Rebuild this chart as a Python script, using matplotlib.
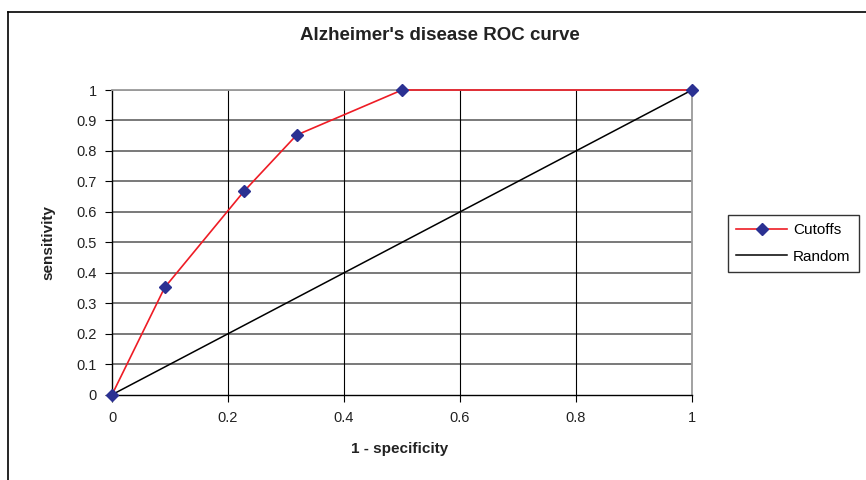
import matplotlib.pyplot as plt
from matplotlib.lines import Line2D

plt.rcParams['font.family'] = ['Liberation Sans', 'DejaVu Sans']

# data
fpr = [0, 0.0909, 0.2273, 0.3182, 0.5, 1]
sens = [0, 0.352, 0.667, 0.852, 1, 1]
rand_x = [0, 1]
rand_y = [0, 1]
xticks = [0, 0.2, 0.4, 0.6, 0.8, 1]
yticks = [0, 0.1, 0.2, 0.3, 0.4, 0.5, 0.6, 0.7, 0.8, 0.9, 1]

fig = plt.figure(figsize=(8.66, 4.8), dpi=100)
ax = fig.add_axes([112 / 866, 1 - 394.7 / 480, 580 / 866, 304.7 / 480])

# grid: horizontal grey, vertical black
for y in yticks[1:]:
    ax.axhline(y, color='#6e6e6e' if y < 1 else '#9a9a9a', lw=1.3, zorder=0)
for x in xticks[1:-1]:
    ax.axvline(x, color='black', lw=0.8, zorder=0)

ax.plot(rand_x, rand_y, color='black', lw=1.1, label='Random', zorder=2)
ax.plot(fpr, sens, color='#ee1c25', lw=1.2, marker='D', markersize=6.5,
        markerfacecolor='#2b3192', markeredgecolor='#2b3192', label='Cutoffs',
        zorder=3, clip_on=False)

ax.set_xlim(0, 1)
ax.set_ylim(0, 1)
ax.set_xticks(xticks)
ax.set_xticklabels(['0', '0.2', '0.4', '0.6', '0.8', '1'])
ax.set_yticks(yticks)
ax.set_yticklabels(['0', '0.1', '0.2', '0.3', '0.4', '0.5', '0.6', '0.7', '0.8', '0.9', '1'])
ax.tick_params(axis='both', direction='out', length=5, width=0.8, labelsize=10.5,
               colors='black', labelcolor='#222222')
ax.tick_params(axis='x', pad=7)
ax.tick_params(axis='y', pad=6)

for s in ['top', 'right']:
    ax.spines[s].set_color('#9a9a9a')
    ax.spines[s].set_linewidth(1.3)
for s in ['left', 'bottom']:
    ax.spines[s].set_color('black')
    ax.spines[s].set_linewidth(1.0)

fig.text(440 / 866, 1 - 35 / 480, "Alzheimer's disease ROC curve", ha='center',
         va='center', fontsize=13.5, fontweight='bold', color='#222222')
fig.text(400 / 866, 1 - 449 / 480, '1 - specificity', ha='center', va='center',
         fontsize=11, fontweight='bold', color='#222222')
fig.text(48 / 866, 1 - 243 / 480, 'sensitivity', ha='center', va='center',
         rotation=90, fontsize=11, fontweight='bold', color='#222222')

handles = [Line2D([], [], color='#ee1c25', lw=1.2, marker='D', markersize=6.5,
                  markerfacecolor='#2b3192', markeredgecolor='#2b3192'),
           Line2D([], [], color='black', lw=1.1)]
leg = fig.legend(handles, ['Cutoffs', 'Random'], loc='upper left',
                 bbox_to_anchor=(728 / 866, 1 - 215 / 480), fontsize=11,
                 frameon=True, fancybox=False, handlelength=3.3, borderpad=0.55,
                 labelspacing=0.8, handletextpad=0.4, borderaxespad=0)
leg.get_frame().set_edgecolor('black')
leg.get_frame().set_linewidth(1.0)

# outer chart border (left and top visible)
fig.add_artist(Line2D([8 / 866, 8 / 866], [0, 1 - 12 / 480], color='black', lw=1.2))
fig.add_artist(Line2D([8 / 866, 1], [1 - 12 / 480, 1 - 12 / 480], color='black', lw=1.2))

fig.savefig('out.png', dpi=100)
